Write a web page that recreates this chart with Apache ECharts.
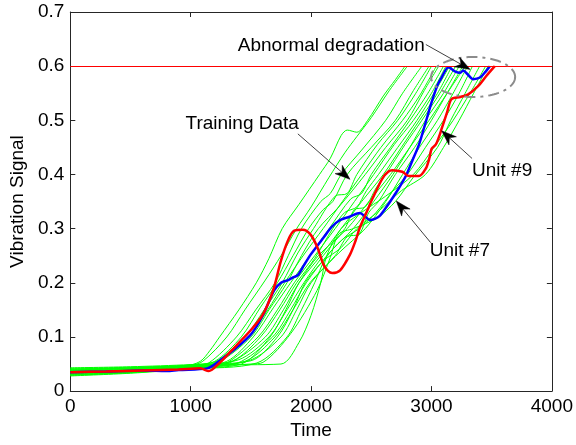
<!DOCTYPE html>
<html><head><meta charset="utf-8">
<script src="https://cdn.jsdelivr.net/npm/echarts@6/dist/echarts.min.js"></script>
<style>html,body{margin:0;padding:0;background:#fff}#c{width:576px;height:445px}</style>
</head><body><div id="c"></div>
<script>
// ---- axes ----
const xMin = 0, xMax = 4000, xStep = 1000;
const yMin = 0, yMax = 0.7, yStep = 0.1;
const thresholdValue = 0.6;

// ---- Unit #7 (blue) ----
const unit7 = [[0,0.035],[300,0.036],[600,0.038],[800,0.037],[900,0.039],[1137,0.042],[1250,0.058],[1380,0.080],[1505,0.106],[1600,0.140],[1693,0.186],[1750,0.200],[1808,0.205],[1850,0.210],[1890,0.214],[1940,0.232],[1996,0.252],[2050,0.268],[2102,0.283],[2170,0.303],[2241,0.316],[2320,0.322],[2405,0.329],[2450,0.322],[2487,0.316],[2530,0.318],[2568,0.323],[2620,0.338],[2675,0.356],[2730,0.375],[2789,0.398],[2840,0.425],[2896,0.455],[2950,0.495],[3002,0.534],[3050,0.565],[3084,0.579],[3141,0.598],[3198,0.590],[3239,0.588],[3264,0.592],[3300,0.585],[3346,0.576],[3403,0.579],[3450,0.590],[3485,0.600]];

// ---- Unit #9 (red) ----
const unit9 = [[0,0.035],[300,0.036],[600,0.038],[900,0.040],[1080,0.042],[1150,0.037],[1235,0.051],[1340,0.075],[1448,0.100],[1520,0.118],[1587,0.137],[1640,0.160],[1693,0.192],[1750,0.241],[1808,0.278],[1857,0.296],[1930,0.298],[1996,0.289],[2053,0.265],[2102,0.234],[2140,0.222],[2176,0.218],[2241,0.223],[2323,0.252],[2370,0.278],[2405,0.302],[2460,0.330],[2511,0.356],[2593,0.393],[2640,0.405],[2675,0.408],[2757,0.405],[2814,0.397],[2896,0.397],[2953,0.411],[2980,0.428],[3002,0.448],[3035,0.455],[3060,0.468],[3084,0.484],[3130,0.515],[3166,0.539],[3239,0.543],[3305,0.548],[3387,0.563],[3452,0.581],[3526,0.600]];

// ---- Training data (green) ----
const train01 = [[0,0.036],[500,0.040],[950,0.046],[1080,0.055],[1160,0.075],[1240,0.100],[1400,0.150],[1545,0.200],[1650,0.245],[1760,0.300],[1900,0.345],[2070,0.400],[2160,0.430],[2250,0.472],[2300,0.482],[2380,0.478],[2470,0.500],[2600,0.545],[2700,0.575],[2780,0.600]];
const train02 = [[0,0.040],[500,0.043],[1000,0.048],[1100,0.055],[1300,0.100],[1450,0.150],[1620,0.205],[1750,0.250],[1880,0.300],[2000,0.340],[2150,0.395],[2280,0.440],[2380,0.470],[2500,0.505],[2650,0.555],[2800,0.600]];
const train03 = [[0,0.032],[500,0.036],[1000,0.044],[1150,0.052],[1380,0.100],[1540,0.150],[1700,0.200],[1810,0.250],[1920,0.300],[2080,0.350],[2160,0.365],[2250,0.400],[2420,0.445],[2620,0.500],[2760,0.550],[2920,0.600]];
const train04 = [[0,0.038],[500,0.041],[1000,0.047],[1200,0.055],[1420,0.100],[1580,0.155],[1720,0.200],[1850,0.250],[1980,0.300],[2100,0.335],[2180,0.350],[2300,0.400],[2500,0.450],[2700,0.500],[2850,0.555],[2980,0.600]];
const train05 = [[0,0.030],[500,0.035],[1000,0.043],[1180,0.050],[1450,0.100],[1610,0.150],[1760,0.200],[1890,0.255],[2020,0.300],[2200,0.360],[2300,0.365],[2380,0.400],[2550,0.455],[2720,0.500],[2870,0.550],[3000,0.600]];
const train06 = [[0,0.042],[500,0.044],[1000,0.048],[1250,0.058],[1480,0.100],[1640,0.150],[1780,0.200],[1950,0.255],[2100,0.300],[2260,0.350],[2420,0.400],[2580,0.450],[2760,0.500],[2900,0.545],[3040,0.600]];
const train07 = [[0,0.034],[500,0.038],[1000,0.045],[1220,0.052],[1500,0.100],[1650,0.150],[1800,0.200],[1920,0.250],[2060,0.300],[2230,0.340],[2450,0.400],[2620,0.450],[2800,0.500],[2940,0.555],[3060,0.600]];
const train08 = [[0,0.037],[500,0.040],[1000,0.046],[1300,0.055],[1520,0.100],[1690,0.155],[1830,0.200],[1990,0.250],[2150,0.300],[2330,0.355],[2420,0.365],[2500,0.400],[2660,0.450],[2820,0.500],[2970,0.550],[3100,0.600]];
const train09 = [[0,0.029],[500,0.034],[1000,0.042],[1280,0.050],[1560,0.100],[1720,0.150],[1860,0.200],[2030,0.250],[2200,0.300],[2360,0.350],[2520,0.400],[2690,0.455],[2850,0.500],[3000,0.550],[3120,0.600]];
const train10 = [[0,0.039],[500,0.042],[1000,0.047],[1350,0.056],[1580,0.100],[1740,0.150],[1880,0.200],[2030,0.245],[2180,0.300],[2280,0.330],[2380,0.340],[2460,0.370],[2560,0.400],[2720,0.450],[2880,0.500],[3020,0.550],[3150,0.600]];
const train11 = [[0,0.033],[500,0.037],[1000,0.044],[1320,0.052],[1620,0.100],[1770,0.150],[1900,0.200],[2080,0.250],[2250,0.300],[2420,0.350],[2600,0.400],[2750,0.450],[2900,0.500],[3050,0.550],[3170,0.600]];
const train12 = [[0,0.041],[500,0.043],[1000,0.048],[1400,0.058],[1650,0.100],[1800,0.150],[1940,0.200],[2100,0.250],[2280,0.300],[2360,0.335],[2450,0.340],[2540,0.375],[2620,0.400],[2780,0.455],[2920,0.500],[3070,0.550],[3200,0.600]];
const train13 = [[0,0.031],[500,0.035],[1000,0.043],[1380,0.051],[1680,0.100],[1830,0.150],[1960,0.200],[2150,0.255],[2350,0.300],[2520,0.350],[2680,0.400],[2820,0.450],[2950,0.500],[3100,0.550],[3230,0.600]];
const train14 = [[0,0.036],[500,0.039],[1000,0.045],[1450,0.055],[1700,0.100],[1850,0.150],[1990,0.200],[2200,0.250],[2300,0.285],[2400,0.290],[2480,0.330],[2560,0.350],[2700,0.400],[2860,0.450],[3000,0.500],[3130,0.550],[3260,0.600]];
const train15 = [[0,0.040],[500,0.042],[1000,0.047],[1480,0.056],[1750,0.100],[1880,0.150],[2000,0.200],[2230,0.255],[2450,0.300],[2620,0.350],[2760,0.400],[2900,0.450],[3050,0.500],[3180,0.550],[3300,0.600]];
const train16 = [[0,0.028],[500,0.033],[1000,0.041],[1550,0.052],[1800,0.100],[1920,0.150],[2030,0.200],[2120,0.245],[2260,0.280],[2400,0.300],[2540,0.330],[2680,0.370],[2800,0.400],[2950,0.450],[3100,0.500],[3230,0.550],[3340,0.600]];
const train17 = [[0,0.035],[500,0.038],[1000,0.045],[1500,0.050],[1600,0.053],[1830,0.106],[2050,0.186],[2160,0.247],[2230,0.290],[2350,0.300],[2550,0.320],[2700,0.350],[2850,0.395],[3050,0.450],[3160,0.500],[3280,0.550],[3400,0.600]];
const train18 = [[0,0.038],[600,0.043],[1200,0.048],[1750,0.050],[1900,0.090],[2000,0.140],[2080,0.200],[2130,0.250],[2250,0.300],[2420,0.330],[2620,0.360],[2850,0.400],[3020,0.450],[3180,0.500],[3320,0.550],[3450,0.600]];
const train19 = [[0,0.043],[500,0.045],[1000,0.049],[1500,0.056],[1720,0.100],[1850,0.150],[1950,0.200],[2100,0.240],[2250,0.265],[2380,0.300],[2550,0.330],[2750,0.370],[2950,0.400],[3100,0.450],[3230,0.500],[3350,0.550],[3470,0.600]];
const train20 = [[0,0.030],[500,0.034],[1000,0.042],[1420,0.050],[1660,0.100],[1790,0.150],[1900,0.200],[2060,0.250],[2300,0.300],[2480,0.350],[2660,0.400],[2820,0.450],[2980,0.500],[3130,0.550],[3280,0.600]];
const trainingData = [train01,train02,train03,train04,train05,train06,train07,train08,train09,train10,train11,train12,train13,train14,train15,train16,train17,train18,train19,train20];

// ---- annotation texts (data-space anchors) ----
const labelAbnormal = {text:'Abnormal degradation', at:[1391,0.637], from:[2953,0.640], to:[3321,0.594]};
const labelTraining = {text:'Training Data', at:[957,0.4935], from:[1890,0.475], to:[2323,0.391]};
const labelUnit9 = {text:'Unit #9', at:[3337,0.406], from:[3337,0.4296], to:[3084,0.4807]};
const labelUnit7 = {text:'Unit #7', at:[2986,0.260], from:[2994,0.274], to:[2708,0.351]};
const ellipseCenter = [3346,0.580];

const FONT = '"Liberation Sans", Arial, sans-serif';
const AX = '#262626';
const chart = echarts.init(document.getElementById('c'), null, {renderer:'canvas'});

const series = [];
trainingData.forEach((d,i)=>{
  series.push({type:'line', name:'train'+i, data:d, showSymbol:false, symbol:'none', smooth:0.3,
    lineStyle:{color:'#00ff00', width:1}, z:2, animation:false, silent:true});
});
series.push({type:'line', name:'Unit #7', data:unit7, symbol:'none', smooth:0.3,
  lineStyle:{color:'#0000ff', width:2.5}, z:3, animation:false});
series.push({type:'line', name:'Unit #9', data:unit9, symbol:'none', smooth:0.3,
  lineStyle:{color:'#ff0000', width:2.5}, z:4, animation:false,
  markLine:{symbol:'none', silent:true, animation:false, label:{show:false},
    lineStyle:{color:'#ff0000', width:1, type:'solid'}, data:[{yAxis:thresholdValue}]}});

const axisCommon = {
  axisLine:{show:true, onZero:false, lineStyle:{color:AX, width:1}},
  axisTick:{show:true, inside:true, length:5, lineStyle:{color:AX}},
  splitLine:{show:false}
};

chart.setOption({
  animation:false,
  grid:{left:66, right:22, top:12, bottom:50, containLabel:false},
  xAxis:[
    Object.assign({type:'value', position:'bottom', min:xMin, max:xMax, interval:xStep,
      name:'Time', nameLocation:'middle', nameGap:28,
      nameTextStyle:{fontFamily:FONT, fontSize:19, color:'#000'},
      axisLabel:{margin:6, fontFamily:FONT, fontSize:19, color:'#000', formatter:v=>String(v)}}, axisCommon),
    Object.assign({type:'value', position:'top', min:xMin, max:xMax, interval:xStep,
      axisLabel:{show:false}}, axisCommon)
  ],
  yAxis:[
    Object.assign({type:'value', position:'left', min:yMin, max:yMax, interval:yStep,
      name:'Vibration Signal', nameLocation:'middle', nameGap:38, nameRotate:90,
      nameTextStyle:{fontFamily:FONT, fontSize:19, color:'#000'},
      axisLabel:{margin:6, fontFamily:FONT, fontSize:19, color:'#000', formatter:v=> v===0?'0':v.toFixed(1)}}, axisCommon),
    Object.assign({type:'value', position:'right', min:yMin, max:yMax, interval:yStep,
      axisLabel:{show:false}}, axisCommon)
  ],
  series:series
});

// ---- annotations ----
function px(p){ return chart.convertToPixel({gridIndex:0}, p); }
function arrow(a){
  const s = px(a.from), t = px(a.to);
  const dx=t[0]-s[0], dy=t[1]-s[1], len=Math.hypot(dx,dy);
  const ux=dx/len, uy=dy/len, nx=-uy, ny=ux;
  const L=15, W=5.5;
  const bx=t[0]-L*ux, by=t[1]-L*uy;
  const mx=t[0]-0.7*L*ux, my=t[1]-0.7*L*uy;
  return [
    {type:'line', shape:{x1:s[0], y1:s[1], x2:mx, y2:my}, style:{stroke:'#404040', lineWidth:1}, z:100},
    {type:'polygon', shape:{points:[[t[0],t[1]],[bx+W*nx,by+W*ny],[mx,my],[bx-W*nx,by-W*ny]]}, style:{fill:'#000', stroke:'#000', lineWidth:0.5}, z:101}
  ];
}
function label(a){
  const p = px(a.at);
  return {type:'text', x:p[0], y:p[1], style:{text:a.text, fill:'#000', font:'19px '+FONT, textAlign:'left', textVerticalAlign:'middle'}, z:102};
}
const c = px(ellipseCenter);
const pts = [];
for(let k=0;k<=120;k++){ const a=k/120*Math.PI*2; pts.push([c[0]+42*Math.cos(a), c[1]+20*Math.sin(a)]); }
const graphics = [
  {type:'polyline', shape:{points:pts}, style:{stroke:'#8c8c8c', lineWidth:2, lineDash:[11,5,3,5], fill:null}, z:99},
  ...arrow(labelAbnormal), ...arrow(labelTraining), ...arrow(labelUnit9), ...arrow(labelUnit7),
  label(labelAbnormal), label(labelTraining), label(labelUnit9), label(labelUnit7)
];
chart.setOption({graphic:graphics});
</script></body></html>
